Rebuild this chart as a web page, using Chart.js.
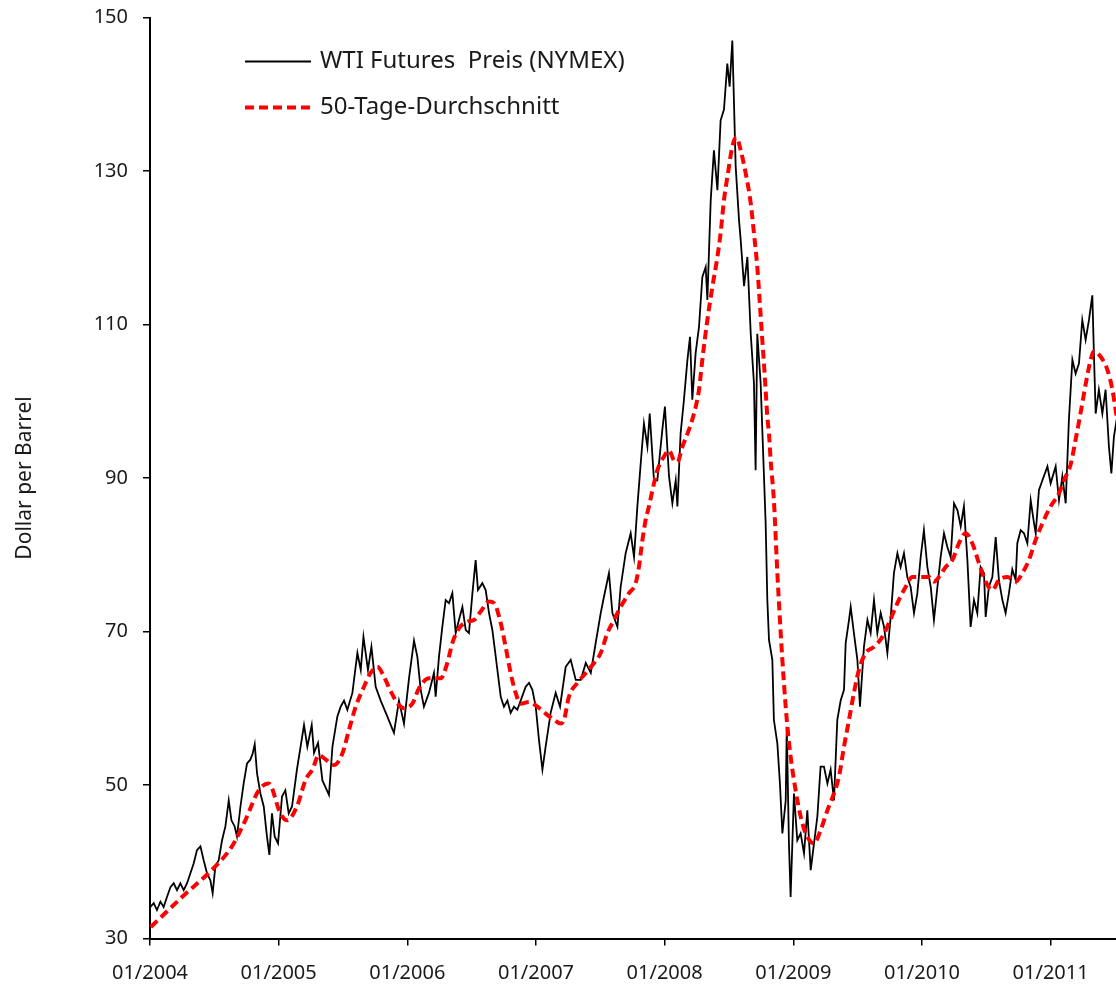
<!DOCTYPE html>
<html><head><meta charset="utf-8">
<script src="https://cdn.jsdelivr.net/npm/chart.js@4.4.1/dist/chart.umd.min.js"></script>
<style>html,body{margin:0;padding:0;background:#fff;overflow:hidden}</style>
</head><body>
<canvas id="c" width="1116" height="988"></canvas>
<script>
// ---- data (decimal years, USD per barrel) ----
const wtiYear = [
2004.003,2004.029,2004.054,2004.081,2004.106,2004.132,2004.159,2004.184,2004.210,2004.236,2004.262,2004.288,2004.314,2004.340,2004.365,2004.392,2004.417,2004.443,2004.469,2004.487,2004.508,2004.534,2004.560,2004.586,2004.612,2004.633,2004.658,2004.676,2004.703,2004.728,2004.754,2004.780,2004.798,2004.814,2004.832,2004.858,2004.884,2004.909,2004.928,2004.948,2004.969,2004.995,
2005.026,2005.052,2005.078,2005.104,2005.142,2005.197,2005.223,2005.257,2005.275,2005.306,2005.340,2005.391,2005.418,2005.456,2005.482,2005.508,2005.534,2005.573,2005.612,2005.638,2005.659,2005.676,2005.694,2005.721,2005.754,2005.793,2005.845,2005.896,2005.935,2005.974,
2006.013,2006.052,2006.078,2006.104,2006.129,2006.168,2006.207,2006.220,2006.246,2006.272,2006.298,2006.324,2006.350,2006.376,2006.401,2006.428,2006.454,2006.479,2006.506,2006.531,2006.549,2006.583,2006.609,2006.635,2006.661,2006.700,2006.726,2006.751,2006.778,2006.803,2006.829,2006.855,2006.881,2006.920,2006.946,2006.972,2006.998,
2007.023,2007.050,2007.075,2007.114,2007.153,2007.187,2007.231,2007.270,2007.309,2007.348,2007.387,2007.426,2007.464,2007.503,2007.528,2007.567,2007.594,2007.633,2007.658,2007.697,2007.736,2007.762,2007.788,2007.814,2007.839,2007.866,2007.884,2007.917,2007.943,2007.982,
2008.002,2008.034,2008.060,2008.086,2008.099,2008.124,2008.150,2008.177,2008.197,2008.215,2008.241,2008.267,2008.293,2008.319,2008.332,2008.358,2008.383,2008.410,2008.435,2008.461,2008.487,2008.505,2008.526,2008.552,2008.578,2008.591,2008.617,2008.643,2008.669,2008.694,2008.707,2008.720,2008.746,2008.772,2008.785,2008.798,2008.811,2008.837,2008.849,2008.876,2008.896,2008.915,2008.941,2008.949,2008.966,2008.979,
2009.005,2009.031,2009.057,2009.083,2009.109,2009.135,2009.161,2009.187,2009.212,2009.238,2009.265,2009.290,2009.316,2009.342,2009.368,2009.394,2009.407,2009.433,2009.446,2009.471,2009.498,2009.518,2009.549,2009.576,2009.601,2009.627,2009.653,2009.679,2009.705,2009.731,2009.757,2009.782,2009.809,2009.834,2009.860,2009.886,2009.912,2009.938,2009.964,2009.990,
2010.015,2010.042,2010.068,2010.093,2010.120,2010.145,2010.171,2010.197,2010.223,2010.249,2010.276,2010.301,2010.326,2010.353,2010.378,2010.404,2010.430,2010.456,2010.482,2010.495,2010.520,2010.547,2010.573,2010.598,2010.625,2010.650,2010.676,2010.702,2010.728,2010.741,2010.767,2010.793,2010.819,2010.845,2010.871,2010.884,2010.909,2010.936,2010.975,
2011.000,2011.039,2011.065,2011.091,2011.117,2011.142,2011.169,2011.194,2011.220,2011.246,2011.272,2011.298,2011.324,2011.337,2011.350,2011.375,2011.402,2011.427,2011.453,2011.472,2011.492,2011.513
];
const wtiPrice = [
34.1,34.6,33.7,34.8,34.1,35.4,36.7,37.2,36.3,37.2,36.3,37.2,38.5,39.8,41.5,42,40.2,38.5,37.6,35.9,39.4,40.2,42.8,44.6,48,45.4,44.6,43.3,47.2,50.2,52.8,53.3,54.1,55.3,51.5,48.9,47.2,43.3,40.9,46.3,43.3,42.4,
48.5,49.3,46.3,47.2,52,57.8,55,57.8,54.2,55.5,50.6,48.7,55,58.9,60.2,61,59.8,62,67.2,65,69.3,67.2,65,68,62.8,61,58.9,56.8,61,58,
63.9,68.8,66.7,62.4,60.2,62,64.6,61.5,66.7,70.6,74.1,73.7,75,69.8,71.5,73.2,70.2,69.8,75,79.3,75.4,76.3,75.4,72.4,70.2,65,61.5,60.2,61,59.4,60.2,59.8,61,62.8,63.3,62.4,60.2,
55.9,52,55,59.4,62,60.2,65.4,66.3,63.7,63.7,65.9,64.6,68.5,72.4,74.5,77.6,72.4,70.6,75.8,80.2,82.8,79.7,86.3,91.9,97.1,94.1,98.4,89.7,89.7,96.3,
99.3,90.2,86.7,89.7,86.3,95.8,100.2,105.4,108.4,100.2,106.3,109.7,116.2,117.5,113.2,126.2,132.7,127.5,136.6,138,144,141,147,130.6,123.6,121,115,118.8,108.8,102.4,91,108.8,102.4,90.2,84.1,74.1,68.9,66.3,58.5,55.4,50.2,43.7,48,57.6,42.4,35.4,
48.9,42.8,43.7,41.1,46.7,38.9,42.4,45.9,52.4,52.4,50.2,52,48,58.5,61,62.4,68.5,71.5,73.2,69.8,66.3,60.2,68,71.5,69.8,74.1,69.8,72.4,70.6,67.2,71.9,77.6,80.2,78.4,80.2,77.1,75.8,72.4,75,79.7,
83.2,78.4,75.8,71.5,75.8,79.7,82.8,81,79.7,86.7,85.8,83.7,86.3,79.3,70.6,74.1,72.4,78.4,77.6,71.9,75.8,77.1,82.3,76.7,74.1,72.4,75,78.1,76.7,81.5,83.2,82.8,81.5,87.1,84.1,82.8,88.4,89.7,91.5,
89.3,91.5,87.1,90.2,86.7,97.6,105.4,103.6,104.9,110.6,108,110.6,113.8,105.8,98.4,101.5,98.4,101.5,94.1,90.6,95.4,97.6
];
const maYear = [
2004.006,2004.249,2004.508,2004.637,2004.741,2004.845,2004.923,
2005.013,2005.065,2005.142,2005.210,2005.262,2005.313,2005.352,2005.430,2005.495,2005.547,2005.599,2005.663,2005.715,2005.767,2005.819,2005.871,2005.935,2005.974,
2006.039,2006.091,2006.168,2006.259,2006.311,2006.350,2006.401,2006.467,2006.518,2006.570,2006.635,2006.674,2006.726,2006.764,2006.803,2006.842,2006.881,2006.946,
2007.011,2007.075,2007.140,2007.192,2007.218,2007.256,2007.322,2007.387,2007.451,2007.503,2007.555,2007.606,2007.658,2007.723,2007.775,2007.800,2007.827,2007.852,2007.878,2007.905,2007.943,2007.995,
2008.034,2008.072,2008.099,2008.138,2008.189,2008.228,2008.267,2008.293,2008.332,2008.371,2008.410,2008.435,2008.461,2008.492,2008.526,2008.557,2008.591,2008.630,2008.669,2008.694,2008.720,2008.738,2008.759,2008.777,2008.798,2008.811,2008.824,2008.849,2008.876,2008.902,2008.927,2008.954,2008.979,
2009.018,2009.057,2009.096,2009.161,2009.212,2009.265,2009.316,2009.355,2009.394,2009.433,2009.471,2009.510,2009.562,2009.627,2009.692,2009.743,2009.809,2009.873,2009.925,2009.990,
2010.054,2010.093,2010.132,2010.184,2010.236,2010.288,2010.339,2010.391,2010.443,2010.495,2010.547,2010.598,2010.664,2010.728,2010.780,2010.831,2010.883,2010.936,
2011.000,2011.065,2011.104,2011.156,2011.194,2011.233,2011.272,2011.311,2011.337,2011.389,2011.441,2011.480,2011.513
];
const maPrice = [
31.5,35.4,39.4,42,45.4,49.3,50.2,
46.3,45.4,47.2,50.7,52,53.9,53.5,52.6,54.1,57.2,60.2,62.8,64.6,65.4,64.1,62.2,60.4,60,
60.6,62.6,63.9,63.9,65.9,68.5,70.4,71.3,71.5,72.6,73.9,73.7,71.1,68,64.6,62,60.6,60.8,
60.2,59.3,58.5,58,58.5,61.5,63.3,64.6,65.9,67.2,69.8,71.5,73.2,75,76.3,78.4,81.9,84.5,86.3,88.4,91,92.8,
93.6,92.3,92.1,94.1,96.3,98.4,101.5,105.4,110.6,114.9,118.8,121.9,126.2,129.7,133.2,134.4,132.7,129.7,125.8,121.9,117.5,113.2,108,103.6,98,95.8,92.3,87.1,77.6,69.8,63.3,57.6,53.7,
49.3,45.9,43.7,42.4,44.1,46.7,48.9,51.1,55,58.5,62,65,67.2,68,69.3,71.1,73.7,75.8,77.1,77.1,
77.1,76.5,77.1,78.4,79.3,81.5,82.8,81.5,78.9,76.5,75.4,76.7,77.1,76.5,77.6,79.3,81.9,84.1,
86.3,88,89.7,91.8,95,98.5,102.2,105.4,106.5,105.8,104.1,101.5,98
];
const yearTicks = [2004,2005,2006,2007,2008,2009,2010,2011];
const yMin = 30, yMax = 150, yStep = 20;
const xMin = 2004, xMax = 2011.508;
const seriesLabels = ['WTI Futures  Preis (NYMEX)', '50-Tage-Durchschnitt'];
const yAxisTitle = 'Dollar per Barrel';

const FONT = '"Noto Sans", "DejaVu Sans", sans-serif';
const TXT = '#1a1a1a';

const legendPlugin = {
  id: 'insideLegend',
  afterDraw(chart) {
    const ctx = chart.ctx, a = chart.chartArea;
    ctx.save();
    chart.data.datasets.forEach((ds, i) => {
      const y = a.top + 44 + i * 46;
      const x0 = a.left + 95, x1 = a.left + 161;
      ctx.beginPath();
      ctx.strokeStyle = ds.borderColor;
      ctx.lineWidth = ds.borderWidth;
      ctx.setLineDash(ds.borderDash || []);
      ctx.moveTo(x0, y); ctx.lineTo(x1, y); ctx.stroke();
      ctx.setLineDash([]);
      ctx.fillStyle = TXT;
      ctx.font = '24px ' + FONT;
      ctx.textBaseline = 'middle';
      ctx.textAlign = 'left';
      ctx.fillText(ds.label, a.left + 170, y);
    });
    ctx.restore();
  }
};

new Chart(document.getElementById('c'), {
  type: 'line',
  data: {
    datasets: [
      { label: seriesLabels[0], data: wtiYear.map((x, i) => ({x, y: wtiPrice[i]})),
        borderColor: '#000', borderWidth: 1.8, pointRadius: 0, tension: 0, order: 2 },
      { label: seriesLabels[1], data: maYear.map((x, i) => ({x, y: maPrice[i]})),
        borderColor: '#ff0000', borderWidth: 4, borderDash: [9, 5], pointRadius: 0,
        cubicInterpolationMode: 'monotone', order: 1 }
    ]
  },
  options: {
    responsive: false, animation: false, devicePixelRatio: 1,
    layout: { padding: { top: 17.5, right: 0, left: 0, bottom: 0 } },
    plugins: { legend: { display: false }, tooltip: { enabled: false } },
    scales: {
      x: {
        type: 'linear', min: xMin, max: xMax,
        afterBuildTicks: s => { s.ticks = yearTicks.map(v => ({value: v})); },
        afterFit: s => { s.height = 49.5; s.paddingRight = 0; },
        grid: { drawOnChartArea: false, drawTicks: true, tickLength: 7, color: '#000', lineWidth: 1.5 },
        border: { display: true, color: '#000', width: 2 },
        ticks: { color: TXT, font: { family: FONT, size: 20 }, padding: 16, maxRotation: 0,
                 callback: v => '01/' + v }
      },
      y: {
        min: yMin, max: yMax,
        afterFit: s => { s.width = 150; s.paddingTop = 0; s.paddingBottom = 0; },
        grid: { drawOnChartArea: false, drawTicks: true, tickLength: 7, color: '#000', lineWidth: 1.5 },
        border: { display: true, color: '#000', width: 2 },
        ticks: { stepSize: yStep, color: TXT, font: { family: FONT, size: 20 }, padding: 15 },
        title: { display: true, text: yAxisTitle, color: TXT, font: { family: FONT, size: 21 },
                 padding: { top: 12, bottom: 0 } }
      }
    }
  },
  plugins: [legendPlugin]
});
</script>
</body></html>
